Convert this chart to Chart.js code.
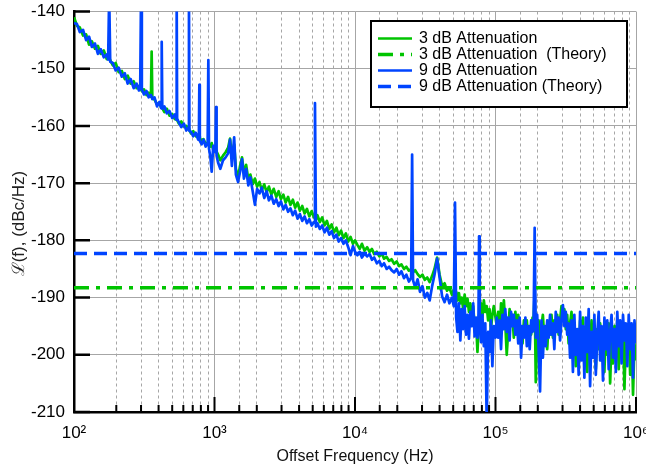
<!DOCTYPE html>
<html>
<head>
<meta charset="utf-8">
<script src="https://cdn.jsdelivr.net/npm/chart.js@4.4.1/dist/chart.umd.min.js"></script>
<style>
  html, body { margin: 0; padding: 0; background: #fff; overflow: hidden; }
  #wrap { width: 646px; height: 468px; }
</style>
</head>
<body>
<div id="wrap"><canvas id="noiseChart" width="646" height="468"></canvas></div>
<script>
// offset frequencies (Hz), shared by both measured traces
const offsetHz = [
  100, 105, 110, 116, 122, 128, 134, 141, 148, 155,
  163, 171, 175, 178, 181, 189, 198, 208, 219, 230,
  241, 253, 266, 279, 290, 296, 300, 304, 315, 328,
  340, 353, 357, 361, 374, 390, 406, 417, 421, 425,
  440, 458, 478, 500, 522, 534, 538, 542, 558, 580,
  605, 630, 653, 658, 663, 680, 705, 735, 765, 774,
  780, 786, 810, 835, 865, 894, 904, 914, 935, 955,
  980, 1000, 1015, 1025, 1035, 1060, 1100, 1150, 1200, 1250,
  1290, 1330, 1380, 1420, 1470, 1520, 1570, 1620, 1680, 1740,
  1800, 1870, 1940, 2010, 2090, 2170, 2260, 2350, 2440, 2540,
  2640, 2750, 2860, 2970, 3090, 3210, 3340, 3470, 3610, 3750,
  3900, 4050, 4210, 4380, 4550, 4730, 4920, 5110, 5190, 5270,
  5400, 5620, 5840, 6070, 6310, 6560, 6820, 7090, 7370, 7660,
  7960, 8280, 8610, 8950, 9300, 9670, 10000, 10400, 10800, 11200,
  11700, 12200, 12700, 13200, 13700, 14300, 14900, 15500, 16100, 16800,
  17500, 18200, 19000, 19800, 20600, 21400, 22300, 23200, 24200, 25100,
  25500, 25900, 26800, 27900, 29000, 30200, 31400, 32700, 34000, 35400,
  36800, 38400, 40000, 41700, 43400, 45200, 47000, 49000, 50500, 51500,
  52500, 53600, 54900, 56200, 57500, 58900, 60300, 61700, 63200, 64700,
  66200, 67800, 69400, 71000, 72700, 74400, 75600, 76400, 77200, 78900,
  80700, 82600, 84600, 86600, 88600, 90700, 92800, 95000, 97200, 100000,
  102000, 104500, 107000, 109500, 112000, 114700, 117400, 120200, 123000, 126000,
  129000, 132000, 135000, 138500, 141800, 145200, 148600, 152100, 155700, 159400,
  163200, 167100, 171100, 175100, 179300, 183500, 186500, 190000, 193500, 198000,
  202700, 207500, 212400, 217400, 222600, 227900, 233300, 238800, 244500, 250300,
  256200, 262300, 268500, 274900, 281400, 288100, 294900, 301900, 309100, 316400,
  323900, 331600, 339400, 347500, 355700, 364100, 372800, 381600, 390700, 400000,
  409500, 419200, 429100, 439300, 449700, 460400, 471300, 482500, 493900, 505600,
  517600, 529900, 542500, 555400, 568600, 582100, 595900, 610000, 624500, 639300,
  654500, 670000, 685900, 702200, 718800, 735900, 753400, 771200, 789500, 808300,
  827400, 847100, 867200, 887800, 908800, 930400, 952500, 975100, 1000000
];

// measured phase noise, 3 dB attenuation (dBc/Hz)
const atten3dB = [
  -141.0, -142.5, -142.8, -144.2, -144.0, -145.8, -145.2, -146.5, -146.0, -147.4,
  -146.8, -148.3, -147.8, -148.0, -148.5, -149.4, -149.0, -150.6, -150.4, -151.8,
  -151.2, -152.6, -152.2, -153.4, -153.0, -153.6, -153.4, -153.9, -153.6, -154.6,
  -154.2, -154.9, -147.0, -155.2, -155.4, -156.2, -156.0, -156.8, -156.5, -156.9,
  -157.6, -157.0, -158.2, -157.9, -158.8, -158.5, -158.9, -159.0, -159.6, -159.2,
  -160.1, -160.0, -160.6, -160.4, -160.7, -161.3, -160.9, -161.8, -161.5, -162.0,
  -161.8, -162.1, -162.6, -162.3, -163.2, -162.9, -163.2, -163.5, -163.6, -163.0,
  -164.2, -163.6, -164.0, -164.3, -164.5, -165.0, -166.0, -165.2, -164.6, -163.8,
  -162.2, -165.5, -163.2, -167.5, -169.0, -167.0, -165.5, -168.2, -166.8, -169.4,
  -168.5, -170.2, -169.2, -170.6, -169.8, -171.2, -170.2, -171.6, -170.6, -172.0,
  -171.0, -172.4, -171.4, -172.8, -172.0, -173.4, -172.4, -173.8, -172.9, -174.3,
  -173.4, -174.8, -174.0, -175.3, -174.5, -175.8, -174.9, -176.0, -175.8, -176.4,
  -175.6, -176.8, -176.0, -177.4, -176.6, -178.0, -177.2, -178.6, -177.8, -179.1,
  -178.3, -179.6, -178.8, -180.2, -179.4, -180.6, -180.0, -180.8, -181.5, -180.6,
  -181.8, -181.2, -182.0, -181.5, -182.4, -182.0, -182.8, -182.3, -183.2, -182.9,
  -183.6, -183.3, -184.1, -183.7, -184.5, -184.2, -185.0, -184.6, -185.3, -185.0,
  -184.8, -185.6, -185.2, -185.9, -186.4, -186.0, -186.9, -186.5, -187.3, -186.2,
  -185.0, -183.0, -186.0, -188.0, -187.5, -188.8, -188.3, -189.5, -188.6, -188.8,
  -189.0, -190.5, -189.2, -191.0, -190.0, -192.0, -189.5, -191.5, -190.2, -192.5,
  -191.0, -193.3, -191.5, -195.0, -194.0, -199.5, -196.0, -193.0, -192.0, -191.0,
  -193.5, -190.5, -192.5, -191.5, -194.0, -192.0, -195.5, -193.0, -191.5, -193.5,
  -195.0, -192.5, -196.5, -191.0, -193.5, -190.5, -194.5, -200.0, -196.0, -192.0,
  -194.5, -193.0, -197.0, -192.5, -195.5, -193.0, -197.5, -195.0, -198.0, -194.0,
  -196.5, -194.0, -197.5, -195.0, -196.5, -193.5, -194.0, -189.0, -204.8, -197.0,
  -194.0, -199.5, -195.0, -193.0, -197.5, -195.0, -199.0, -194.5, -196.5, -193.0,
  -197.0, -194.0, -195.5, -193.0, -196.5, -194.0, -191.5, -194.0, -192.0, -195.5,
  -193.0, -198.0, -194.5, -192.5, -199.5, -195.0, -202.0, -196.0, -200.5, -194.0,
  -198.0, -193.5, -201.5, -196.0, -203.0, -195.0, -199.0, -194.0, -200.5, -196.0,
  -202.5, -195.5, -199.0, -194.5, -201.0, -196.0, -203.0, -195.0, -200.0, -194.5,
  -205.0, -197.0, -201.5, -195.0, -199.0, -194.0, -202.5, -196.5, -200.0, -194.5,
  -206.0, -197.0, -199.0, -195.0, -203.5, -196.0, -207.0, -198.0, -201.0
];

// measured phase noise, 9 dB attenuation (dBc/Hz)
const atten9dB = [
  -142.0, -142.2, -143.6, -143.2, -145.0, -144.4, -146.2, -145.6, -147.4, -146.6,
  -148.0, -147.5, -148.4, -137.0, -148.8, -149.0, -150.3, -149.8, -151.4, -150.8,
  -152.6, -151.8, -153.4, -152.6, -153.8, -153.2, -137.0, -153.6, -154.5, -153.9,
  -155.0, -154.6, -154.9, -155.3, -155.0, -156.6, -155.8, -156.9, -145.3, -157.0,
  -156.6, -157.8, -157.4, -158.6, -158.0, -158.9, -137.0, -158.7, -159.4, -160.2,
  -159.6, -160.8, -160.3, -137.0, -160.9, -161.0, -161.8, -161.2, -162.4, -162.2,
  -152.8, -162.6, -163.2, -162.4, -163.6, -163.0, -148.5, -164.0, -165.5, -168.0,
  -163.5, -164.4, -164.6, -156.7, -165.2, -166.4, -167.5, -166.0, -165.5, -164.8,
  -162.4, -167.0, -162.0, -168.5, -169.8, -168.0, -165.8, -169.2, -167.5, -170.4,
  -169.0, -171.4, -173.8, -171.0, -171.8, -170.8, -172.6, -171.4, -173.0, -172.2,
  -173.6, -172.8, -174.0, -173.2, -174.6, -173.8, -175.0, -174.4, -175.6, -174.8,
  -176.2, -175.4, -176.6, -175.8, -177.0, -176.3, -177.4, -176.8, -156.0, -177.6,
  -177.0, -178.0, -177.4, -178.6, -177.8, -179.0, -178.4, -179.6, -179.0, -180.2,
  -179.6, -180.6, -180.0, -181.2, -182.6, -181.0, -182.0, -182.6, -182.0, -183.0,
  -182.3, -182.8, -182.4, -183.4, -183.0, -184.0, -183.6, -184.5, -184.0, -185.0,
  -184.6, -185.2, -185.6, -185.0, -186.0, -185.4, -186.6, -186.0, -187.2, -186.5,
  -165.0, -187.0, -188.2, -186.8, -189.0, -188.0, -190.0, -189.2, -190.5, -188.0,
  -186.0, -183.2, -186.5, -189.8, -190.8, -189.5, -191.0, -190.0, -191.5, -173.4,
  -193.5, -196.0, -191.0, -197.5, -192.0, -195.5, -191.5, -196.5, -193.0, -197.2,
  -192.5, -195.0, -191.0, -196.8, -193.5, -197.0, -194.5, -179.3, -195.0, -197.8,
  -193.0, -198.5, -194.5, -212.0, -196.0, -199.5, -194.0, -202.0, -195.0, -197.0,
  -193.5, -197.0, -194.0, -199.0, -193.0, -195.5, -192.0, -196.0, -193.5, -197.5,
  -192.5, -195.0, -193.0, -196.5, -194.0, -198.0, -193.5, -200.5, -195.0, -197.0,
  -193.5, -198.5, -195.0, -199.0, -194.0, -196.0, -195.5, -177.8, -197.0, -193.0,
  -199.0, -206.4, -194.0, -200.5, -195.0, -198.5, -194.0, -197.0, -193.0, -196.5,
  -194.5, -199.0, -192.5, -196.0, -193.5, -197.5, -194.0, -191.3, -195.0, -192.5,
  -196.5, -194.5, -200.5, -194.0, -203.0, -193.0, -200.0, -195.5, -203.5, -192.5,
  -201.0, -195.0, -204.0, -193.5, -199.5, -192.0, -205.5, -196.0, -200.5, -193.0,
  -203.5, -196.5, -192.5, -201.0, -195.0, -204.5, -193.5, -199.0, -194.0, -202.5,
  -196.0, -193.0, -200.5, -195.5, -203.0, -192.5, -198.5, -194.0, -201.5, -193.0,
  -197.5, -194.5, -202.0, -193.0, -199.0, -194.5, -204.0, -194.0, -198.0
];

// theory levels, flat across the whole span
const theoryHz = [100, 1000000];
const theory3dB = [-188.3, -188.3];
const theory9dB = [-182.3, -182.3];

const seriesLabels = ['3 dB Attenuation', '3 dB Attenuation  (Theory)', '9 dB Attenuation', '9 dB Attenuation (Theory)'];
const yMin = -210, yMax = -140, yStep = 10;
const xMin = 100, xMax = 1000000;

const GREEN = '#00c400';
const BLUE = '#0044ff';
const FONT = 'Arial, "Liberation Sans", sans-serif';
const SUP = { 2: '\u00b2', 3: '\u00b3', 4: '\u2074', 5: '\u2075', 6: '\u2076' };

function toPoints(xs, ys) {
    return xs.map(function (x, i) { return { x: x, y: ys[i] }; });
}

function isDecade(v) {
    const e = Math.log10(v);
    return Math.abs(e - Math.round(e)) < 1e-6;
}

// black tick marks pointing into the plot, like the original figure
const inwardTicks = {
    id: 'inwardTicks',
    afterDatasetsDraw(chart) {
        const ctx = chart.ctx;
        const xs = chart.scales.x, ys = chart.scales.y;
        const area = chart.chartArea;
        ctx.save();
        ctx.strokeStyle = '#000';
        ctx.lineWidth = 2.5;
        ctx.beginPath();
        ys.ticks.forEach(function (t) {
            const py = ys.getPixelForValue(t.value);
            ctx.moveTo(area.left, py);
            ctx.lineTo(area.left + 16, py);
        });
        ctx.stroke();
        ctx.lineWidth = 2;
        ctx.beginPath();
        xs.ticks.forEach(function (t) {
            const px = xs.getPixelForValue(t.value);
            const len = isDecade(t.value) ? 15 : 7;
            ctx.moveTo(px, area.bottom);
            ctx.lineTo(px, area.bottom - len);
        });
        ctx.stroke();
        ctx.restore();
    }
};

// boxed legend in the upper right corner
const boxedLegend = {
    id: 'boxedLegend',
    afterDraw(chart) {
        const ctx = chart.ctx;
        const left = 371, top = 21, w = 256, h = 86;
        ctx.save();
        ctx.fillStyle = '#fff';
        ctx.fillRect(left, top, w, h);
        ctx.strokeStyle = '#000';
        ctx.lineWidth = 2;
        ctx.strokeRect(left, top, w, h);
        chart.data.datasets.forEach(function (ds, i) {
            const cy = top + 17.5 + i * 16;
            ctx.setLineDash(ds.borderDash || []);
            ctx.strokeStyle = ds.borderColor;
            ctx.lineWidth = ds.borderDash ? 3.5 : 2.5;
            ctx.beginPath();
            ctx.moveTo(left + 7, cy);
            ctx.lineTo(left + 41, cy);
            ctx.stroke();
            ctx.setLineDash([]);
            ctx.fillStyle = '#000';
            ctx.font = '16px ' + FONT;
            ctx.textBaseline = 'middle';
            ctx.textAlign = 'left';
            ctx.fillText(ds.label, left + 48, cy);
        });
        ctx.restore();
    }
};

var ctx = document.getElementById('noiseChart').getContext('2d');
var noiseChart = new Chart(ctx, {
    type: 'line',
    data: {
        datasets: [
            {
                label: seriesLabels[0],
                data: toPoints(offsetHz, atten3dB),
                borderColor: GREEN,
                borderWidth: 2.7,
                pointRadius: 0,
                order: 3
            },
            {
                label: seriesLabels[1],
                data: toPoints(theoryHz, theory3dB),
                borderColor: GREEN,
                borderWidth: 3.5,
                borderDash: [15, 7, 4, 7],
                pointRadius: 0,
                order: 1
            },
            {
                label: seriesLabels[2],
                data: toPoints(offsetHz, atten9dB),
                borderColor: BLUE,
                borderWidth: 2.7,
                pointRadius: 0,
                order: 2
            },
            {
                label: seriesLabels[3],
                data: toPoints(theoryHz, theory9dB),
                borderColor: BLUE,
                borderWidth: 3.5,
                borderDash: [13, 7],
                pointRadius: 0,
                order: 0
            }
        ]
    },
    options: {
        responsive: false,
        animation: false,
        devicePixelRatio: 1,
        layout: { padding: { top: 11.5, right: 0, bottom: 0, left: 0 } },
        elements: { line: { tension: 0, borderCapStyle: 'butt', borderJoinStyle: 'round' } },
        plugins: {
            legend: { display: false },
            tooltip: { enabled: false }
        },
        scales: {
            x: {
                type: 'logarithmic',
                min: xMin,
                max: xMax,
                grid: { color: '#a6a6a6', lineWidth: 1, drawTicks: false },
                border: {
                    display: true,
                    color: '#000',
                    width: 2.5,
                    dash: function (c) { return (c.tick && !isDecade(c.tick.value)) ? [3, 3] : []; }
                },
                ticks: {
                    autoSkip: false,
                    maxRotation: 0,
                    padding: 11,
                    color: '#000',
                    font: { family: FONT, size: 17 },
                    callback: function (v) {
                        return isDecade(v) ? '10' + SUP[Math.round(Math.log10(v))] : '';
                    }
                },
                title: {
                    display: true,
                    text: 'Offset Frequency (Hz)',
                    color: '#111',
                    font: { family: FONT, size: 16 },
                    padding: { top: 0, bottom: 2 }
                },
                afterFit: function (s) { s.height = 56; s.paddingRight = 10; }
            },
            y: {
                type: 'linear',
                min: yMin,
                max: yMax,
                grid: { color: '#a6a6a6', lineWidth: 1, drawTicks: false },
                border: { display: true, color: '#000', width: 2.5 },
                ticks: {
                    stepSize: yStep,
                    padding: 9,
                    color: '#000',
                    font: { family: FONT, size: 17 }
                },
                title: {
                    display: true,
                    text: '\u2112(f), (dBc/Hz)     ',
                    color: '#222',
                    font: { family: FONT, size: 17 },
                    padding: { top: 9, bottom: 0 }
                },
                afterFit: function (s) { s.width = 74; s.paddingTop = 0; s.paddingBottom = 0; }
            }
        }
    },
    plugins: [inwardTicks, boxedLegend]
});
</script>
</body>
</html>
